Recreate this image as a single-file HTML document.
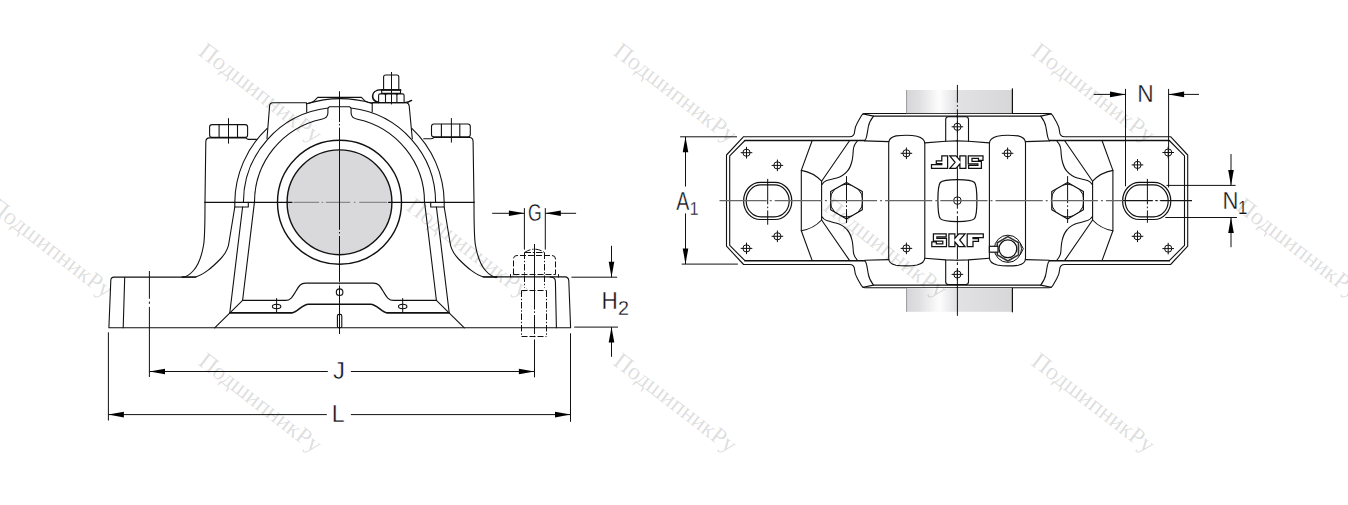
<!DOCTYPE html>
<html>
<head>
<meta charset="utf-8">
<title>Pillow block housing drawing</title>
<style>
html,body{margin:0;padding:0;background:#fff;}
body{width:1348px;height:505px;overflow:hidden;font-family:"Liberation Sans",sans-serif;}
svg{display:block;position:absolute;left:0;top:0;}
.m{fill:none;stroke:#111;stroke-width:1.1;stroke-linecap:round;stroke-linejoin:round;}
.t{fill:none;stroke:#111;stroke-width:1;stroke-linecap:butt;}
.h{fill:none;stroke:#111;stroke-width:1;stroke-dasharray:6 2;}
.hd{fill:none;stroke:#111;stroke-width:1;stroke-dasharray:6.5 1.8 1.4 1.8;}
.c{fill:none;stroke:#111;stroke-width:1;stroke-dasharray:14 2.5 1.8 2.5;}
.cg{fill:none;stroke:#777;stroke-width:1.2;stroke-dasharray:17 3 2 3;}
.a{fill:#000;stroke:none;}
.lbl{font-family:"Liberation Sans",sans-serif;fill:#101018;stroke:#fff;stroke-width:1.4;}
.wm{font-family:"Liberation Serif",serif;font-size:24px;fill:#000;fill-opacity:0.14;}
</style>
</head>
<body>
<svg width="1348" height="505" viewBox="0 0 1348 505">
<defs>
<linearGradient id="sh" x1="0" x2="1" y1="0" y2="0">
<stop offset="0" stop-color="#d6d6d8"/>
<stop offset="0.12" stop-color="#dfdfe1"/>
<stop offset="0.31" stop-color="#fdfdfd"/>
<stop offset="0.47" stop-color="#e2e2e4"/>
<stop offset="1" stop-color="#d7d7d9"/>
</linearGradient>
</defs>



<!-- FRONT VIEW -->
<g id="front">
<circle cx="339.5" cy="202.3" r="52.4" fill="#d9d9db" stroke="#111" stroke-width="1.4"/>
<circle class="m" cx="339.5" cy="202.3" r="62" style="stroke-width:1.4"/>
<!-- arcs -->
<path class="m" d="M234.8,202.4 A104.7,103.5 0 0 1 267.2,128.3"/>
<path class="m" d="M411.8,128.3 A104.7,103.5 0 0 1 444.2,202.4"/>
<path class="m" d="M306.7,103.8 Q339.5,93.7 372.2,103.3"/>
<path class="m" d="M243.4,202.3 A96.1,95 0 0 1 328,108 L329.3,106.8 H349.7 L351,108 A96.1,95 0 0 1 435.6,202.3"/>
<path class="m" d="M254.5,202.3 A85,85 0 0 1 321.5,119.2 Q327.9,118 327.9,113 L327.9,108.2"/>
<path class="m" d="M424.5,202.3 A85,85 0 0 0 357.5,119.2 Q351.1,118 351.1,113 L351.1,108.2"/>
<!-- cover -->
<path class="m" d="M267,138.5 L269.6,106 Q269.8,102.8 273,102.8 L306.5,102.8"/>
<path class="m" d="M306.7,103.7 V112.3 M372.2,103.1 V112"/>
<path class="m" d="M306.3,103.7 Q312,103 314.5,100.6 L317.7,97.4 L361.4,97.4 L364.6,100.6 Q368,103 372.2,103.1"/>
<path class="m" d="M372.2,102.8 L406,102.8 Q408.8,102.8 409.2,106 L412.3,138.8"/>
<!-- body top left / right with bolt heads -->
<path class="m" d="M205,202.3 L205.8,142 Q205.8,137.9 209.5,137.9 L246,137.9 Q247.2,139.4 248.5,139.4 L256.5,139.4"/>
<rect class="m" x="209.6" y="124.6" width="38" height="12.8" rx="2.5"/>
<path class="m" d="M219.1,124.8V137.4M237.5,124.8V137.4"/>
<path class="t" d="M228.5,118.2V143.6"/>
<path class="m" d="M474,202.3 L473.1,142 Q473.1,137.5 469.5,137.5 L434,137.5 Q432.5,138.8 431,138.8 L423.7,138.8"/>
<rect class="m" x="431.5" y="124" width="38.8" height="12.9" rx="2.5"/>
<path class="m" d="M441.4,124.2V136.9M459.8,124.2V136.9"/>
<path class="t" d="M451.4,118.1V142.6"/>
<!-- parting line -->
<path class="m" d="M205,202.4H292M388.5,202.4H474" style="stroke-width:1.1"/>
<path d="M293.5,202.4H319.1M321.6,202.4H323.2M325.8,202.4H350.2M353.9,202.4H355.5M359.2,202.4H387" stroke="#8a8a8c" stroke-width="1.3" fill="none"/>
<!-- left lower (mirrored for right) -->
<g id="lowL">
<path class="m" d="M234.8,202.4V207H248.3V202.4"/>
<path class="m" d="M234.8,207 L228.9,243 C228.3,248 226,253 220.4,259 C215,264.5 211,268 207.8,270.4 C203,274 199,276.5 195,277 L182,277.1"/>
<path class="m" d="M242.6,207 L229.8,312.7"/>
<path class="m" d="M254.4,202.4 L242.6,300.3 L214.7,327.8"/>
<path class="m" d="M205,202.3 C205,225 204.8,238 203.6,245 C201.5,257 198,265.5 193.5,270.5 C190,274.5 186.5,277 182.4,277.1"/>
</g>
<use href="#lowL" transform="translate(679,0) scale(-1,1)"/>
<!-- base -->
<path class="m" d="M196,277.1 L114,277.1 Q110.9,277.1 110.8,280.5 L108.9,327.8 L570.6,327.8 L568.8,281 Q568.6,276.9 565,276.9 L483,276.9"/>
<path class="m" d="M124.7,277.6 L123.2,327.8"/>
<path class="m" d="M550,277 Q555.4,277 555.4,281.5 L556.4,327.8"/>
<!-- inner lower profile -->
<path class="m" d="M242.6,300.4 H285.4 C291,300.4 293,296 296,291 C299,286 300.5,283.1 305.5,283.1 H373.5 C378.5,283.1 380,286 383,291 C386,296 388,300.4 393.6,300.4 H436.4"/>
<path class="m" d="M229.9,312.9 H292 C297,312.9 302,304.2 308.5,304.2 H370.5 C377,304.2 382,312.9 387,312.9 H449.1" style="stroke-width:1.6"/>
<circle class="m" cx="339.6" cy="292.2" r="3.3" style="stroke-width:1.1"/>
<ellipse class="m" cx="276.6" cy="306.5" rx="4.2" ry="2.2" style="stroke-width:1.1"/>
<ellipse class="m" cx="402.7" cy="306.5" rx="4.2" ry="2.2" style="stroke-width:1.1"/>
<path class="t" d="M276.6,298.1V313.1M402.7,298.1V313.1"/>
<rect class="m" x="337.4" y="314.4" width="4.4" height="13.4" rx="1.6" style="stroke-width:1.1"/>
<!-- centre line -->
<path class="t" d="M339.5,91.2V122.1M339.5,123.9V125.4M339.5,127.6V229.8M339.5,232V233.5M339.5,236V281.8M339.5,283.2V284.2M339.5,285.5V334"/>
<!-- top lifting bolt -->
<path class="m" d="M383.6,89.8 V77 Q383.6,75 385.6,75 H396.8 Q398.8,75 398.8,77 V89.8"/>
<rect class="m" x="381.7" y="90" width="18.8" height="3.4"/><path class="m" d="M381.7,89.9H400.5" style="stroke-width:1.8"/>
<path class="m" d="M378.6,102 V95.5 Q378.6,93.9 380.20000000000005,93.9 H383.9 Q385.5,93.9 385.5,95.5 V102 M385.5,102 V95.5 Q385.5,93.9 387.1,93.9 H395.29999999999995 Q396.9,93.9 396.9,95.5 V102 M396.9,102 V95.5 Q396.9,93.9 398.5,93.9 H402.5 Q404.1,93.9 404.1,95.5 V102"/>
<path class="m" d="M381.7,89.8 C375,89.8 372.6,93 372.6,96 C372.6,99 374.5,101.5 378.5,102.4" style="stroke-width:1.6"/>
<path class="m" d="M372.8,102.6 H404.5 Q408.5,102.6 411.6,100.4" style="stroke-width:1.4"/>
<path class="t" d="M391.5,72V104.4"/>
<!-- base bolt left centreline -->
<path class="t" d="M149.4,271V298.8M149.4,301.6V303.8M149.4,306.9V377"/>

<!-- base bolt right, hidden lines -->
<path class="hd" d="M524.5,252.5 Q534.5,245.8 544.5,252.5"/>
<path class="hd" d="M524.5,252.5H544.5"/>
<path class="h" d="M513.5,274.5 V259 Q513.5,255.5 517,255.5 H552 Q555.5,255.5 555.5,259 V274.5"/>
<path class="h" d="M513.5,274.5H555.5"/>
<path class="m" d="M510.5,277V274.5M558.5,277V274.5" style="stroke-width:1"/>
<path class="hd" d="M524.5,252.5V287.6M544.5,252.5V287.6"/>
<path class="h" d="M521.5,290.5H546.5"/>
<path class="hd" d="M521.5,290.5V336.5M546.5,290.5V336.5"/>
<path class="h" d="M521.5,336.5H546.5"/>
<path class="t" d="M534.5,244V309.5M534.5,311.3V312.9M534.5,315V334M534.5,335.8V337.2M534.5,339.5V377.3"/>
</g>

<!-- TOP VIEW -->
<g id="top">
<g id="q">
<!-- outer outline quarter -->
<path class="m" d="M726.5,200.6 V155 L743.6,136.7 H849.5 C852.5,136.7 854.5,135 854.6,131.5 C854.7,128 855.5,126 857.5,122.5 L861.5,115.5 Q862.6,113.5 865,113.5 H957.4"/>
<path class="m" d="M729.7,200.6 V155.8 L744.9,140.5"/><path class="m" d="M744.9,140.5 H864.7" style="stroke-width:1.5"/>
<path class="m" d="M863,113.9 L873.5,116.1 H957.4"/>
<path class="m" d="M873.5,116.1 C870.5,120 869,123 868.4,126.5 C867.6,131 867.2,134 866.6,136.5 Q866,139.5 864.7,140.6"/>
<path class="m" d="M864.7,140.9 L888.7,141.6"/>
<!-- web lines -->
<path class="m" d="M812.1,140.8 L801.3,170.4 V200.6"/>
<path class="m" d="M801.3,170.4 Q813.5,172.5 821.6,181.2 V200.6"/>
<path class="m" d="M849.5,140.8 L821.6,181.2"/>
<path class="m" d="M857.1,141.4 C854.5,144 853.6,146 853.3,150 C853,155 852.8,158 852,161 C850.8,166 849.5,169 846.9,171.7 C844,175 840.5,177 836.8,178 C832.5,179.2 829.5,179.6 826.6,180.6 Q823.5,181.8 822,184.4" style="stroke-width:1.1"/>
<!-- band -->
<path class="m" d="M888.7,200.6 V143 C888.7,139.5 892,136.8 896,135.9 Q901,135.3 906.5,135.3 Q912.5,135.3 917,136.2 C921.5,137.4 924.8,140 924.8,143.5 V200.6"/>
<path class="m" d="M924.8,142.9 L945.7,141.3 L957.4,140.9"/>
<path class="m" d="M945.7,141.2 V119.5 Q945.7,116.7 948.5,116.7 H957.4"/>
</g>

<use href="#q" transform="translate(1914.2,0) scale(-1,1)"/>
<use href="#q" transform="translate(0,401.2) scale(1,-1)"/>
<use href="#q" transform="translate(1914.2,401.2) scale(-1,-1)"/>

<rect x="906.3" y="90" width="106.2" height="23.2" fill="url(#sh)"/>
<path d="M906.6,90V113.3" stroke="#9a9a9c" stroke-width="1" fill="none"/>
<path class="m" d="M1012.4,88.8V113.3" style="stroke-width:1.2"/>
<rect x="906.3" y="288" width="106.2" height="23.8" fill="url(#sh)"/>
<path d="M906.6,288V311.8" stroke="#9a9a9c" stroke-width="1" fill="none"/>
<path class="m" d="M1012.4,288V311.8" style="stroke-width:1.2"/>
<rect class="m" x="743.6" y="182.3" width="48.2" height="37.2" rx="16.8" ry="18.6" style="stroke-width:1.2"/><rect class="m" x="746.2" y="184.9" width="43" height="32" rx="14.6" ry="16" style="stroke-width:1.2"/><path class="c" d="M767.7,178.9V224.7" style="stroke-dasharray:25.5 2.2 1.6 2.2"/><rect class="m" x="1122.6" y="182.3" width="48.2" height="37.2" rx="16.8" ry="18.6" style="stroke-width:1.2"/><rect class="m" x="1125.2" y="184.9" width="43" height="32" rx="14.6" ry="16" style="stroke-width:1.2"/><path class="c" d="M1147.4,178.9V222.8" style="stroke-dasharray:25.5 2.2 1.6 2.2"/><clipPath id="hc846"><polygon points="846.5,182.4 830.7,191.5 830.7,209.8 846.5,219.0 862.3,209.8 862.3,191.5"/></clipPath><polygon class="m" points="846.5,182.4 830.7,191.5 830.7,209.8 846.5,219.0 862.3,209.8 862.3,191.5" style="stroke-width:1.2"/><circle class="t" cx="846.5" cy="200.6" r="16.4" clip-path="url(#hc846)"/><path class="c" d="M846.5,176.1V223" style="stroke-dasharray:27 2.2 1.6 2.2"/><clipPath id="hc1067"><polygon points="1067.6,182.4 1051.8,191.5 1051.8,209.8 1067.6,219.0 1083.4,209.8 1083.4,191.5"/></clipPath><polygon class="m" points="1067.6,182.4 1051.8,191.5 1051.8,209.8 1067.6,219.0 1083.4,209.8 1083.4,191.5" style="stroke-width:1.2"/><circle class="t" cx="1067.6" cy="200.6" r="16.4" clip-path="url(#hc1067)"/><path class="c" d="M1067.6,176.1V223" style="stroke-dasharray:27 2.2 1.6 2.2"/><circle cx="746.5" cy="152.7" r="3.6" class="t"/><path class="t" d="M740.7,152.7H752.3M746.5,146.89999999999998V158.5"/><circle cx="777.4" cy="165.4" r="3.6" class="t"/><path class="t" d="M771.6,165.4H783.1999999999999M777.4,159.6V171.20000000000002"/><circle cx="746.5" cy="248.4" r="3.6" class="t"/><path class="t" d="M740.7,248.4H752.3M746.5,242.6V254.20000000000002"/><circle cx="777.4" cy="236.3" r="3.6" class="t"/><path class="t" d="M771.6,236.3H783.1999999999999M777.4,230.5V242.10000000000002"/><circle cx="1168.2" cy="152.5" r="3.6" class="t"/><path class="t" d="M1162.4,152.5H1174.0M1168.2,146.7V158.3"/><circle cx="1137.5" cy="164.9" r="3.6" class="t"/><path class="t" d="M1131.7,164.9H1143.3M1137.5,159.1V170.70000000000002"/><circle cx="1168.2" cy="248.6" r="3.6" class="t"/><path class="t" d="M1162.4,248.6H1174.0M1168.2,242.79999999999998V254.4"/><circle cx="1137.5" cy="236.3" r="3.6" class="t"/><path class="t" d="M1131.7,236.3H1143.3M1137.5,230.5V242.10000000000002"/><circle cx="957.4" cy="126.8" r="3.6" class="t"/><path class="t" d="M951.6,126.8H963.1999999999999M957.4,121.0V132.6"/><circle cx="957.4" cy="274.4" r="3.6" class="t"/><path class="t" d="M951.6,274.4H963.1999999999999M957.4,268.59999999999997V280.2"/><circle cx="906.4" cy="153.3" r="3.6" class="t"/><path class="t" d="M900.6,153.3H912.1999999999999M906.4,147.5V159.10000000000002"/><circle cx="1007.6" cy="153.3" r="3.6" class="t"/><path class="t" d="M1001.8000000000001,153.3H1013.4M1007.6,147.5V159.10000000000002"/><circle cx="906.4" cy="248.4" r="3.6" class="t"/><path class="t" d="M900.6,248.4H912.1999999999999M906.4,242.6V254.20000000000002"/>
<path class="m" d="M957.4,179.6 C967,179.6 972.5,180.3 974.5,182.5 C976.4,184.8 976.9,192 976.9,200.6 C976.9,209.2 976.4,216.4 974.5,218.7 C972.5,220.9 967,221.6 957.4,221.6 C947.8,221.6 942.3,220.9 940.3,218.7 C938.4,216.4 937.9,209.2 937.9,200.6 C937.9,192 938.4,184.8 940.3,182.5 C942.3,180.3 947.8,179.6 957.4,179.6Z" style="stroke-width:1.2"/>
<circle class="t" cx="957.4" cy="200.6" r="3.8"/>

<path d="M719.5,200.6H1192" fill="none" stroke="#666" stroke-width="1.1" stroke-dasharray="47.2 3 2 3"/>
<path class="t" d="M1123,200.6H1152.5M1155.2,200.6h1.8M1159.8,200.6H1192"/><path class="t" d="M957.4,84.9V102.7M957.4,105.1V106.7M957.4,109.2V208.7M957.4,211.3V213.6M957.4,216V259.4M957.4,262.2V265M957.4,268V315.8"/>

<g id="skf" fill="#fff" stroke="#111" stroke-width="1.25" stroke-linejoin="miter">
<path d="M933.4,233.9 H946.2 V236.9 H936.9 V238.4 H946.5 V246.5 H931.8 V241.8 H936.3 V243.8 H942.8 V241 H933.4 Z"/>
<path d="M948.9,233.9 H954.9 V238.4 L958.8,233.9 H965 L959.7,240 L965,246.5 H958.8 L954.9,242 V246.5 H948.9 Z"/>
<path d="M967.2,233.9 H983.3 V237.6 H973 V238.6 H978.5 V241.3 H973 V246.5 H967.2 Z"/>
</g>
<use href="#skf" transform="translate(1914.8,402.3) scale(-1,-1)"/>

<circle cx="1007.9" cy="248.8" r="13.6" class="t" style="fill:#fff"/>
<path class="t" d="M1020.1,242.8 L1023.3,248.8 L1020.1,254.8"/>
<polygon class="t" points="1007.9,236.6 997.3,242.7 997.3,254.9 1007.9,261.0 1018.5,254.9 1018.5,242.7" style="stroke-width:1.6;stroke:#333"/>
<circle cx="1007.9" cy="248.8" r="8.9" class="t" style="stroke-width:1.3" fill="#fff"/>
<rect x="989.4" y="246.3" width="8.6" height="5.9" class="t" style="stroke-width:1.2;fill:#fff"/>
</g>

<!-- DIMENSIONS -->
<g id="dims"><path class="t" d="M524.4,208.1V249.6M545.3,208.1V249.6M492.2,213.3H524.4M545.3,213.3H576.1"/><polygon class="a" points="524.4,213.3 508.9,210.5 508.9,216.1"/><polygon class="a" points="545.3,213.3 560.8,210.5 560.8,216.1"/><text class="lbl" font-size="100" transform="matrix(0.1762,0,0,0.2345,527.91,220.77)">G</text><path class="t" d="M571.4,277.2H617.2M574.2,327.1H618M611.5,245.8V277.2M611.5,327.1V356.8"/><polygon class="a" points="611.5,277.2 608.7,261.7 614.3,261.7"/><polygon class="a" points="611.5,327.1 608.7,342.6 614.3,342.6"/><text class="lbl" font-size="100" transform="matrix(0.2256,0,0,0.2456,601.45,309.40)">H</text><text class="lbl" font-size="100" transform="matrix(0.1976,0,0,0.1962,618.01,314.70)">2</text><path class="t" d="M149.5,371.5H327.8M350.9,371.5H534.4"/><polygon class="a" points="149.5,371.5 165.0,368.7 165.0,374.3"/><polygon class="a" points="534.4,371.5 518.9,368.7 518.9,374.3"/><text class="lbl" font-size="100" transform="matrix(0.2389,0,0,0.2479,333.03,379.46)">J</text><path class="t" d="M108.4,332.3V420.5M570.5,333.3V421.8M108.4,414.6H326.8M350.9,414.6H570.5"/><polygon class="a" points="108.4,414.6 123.9,411.8 123.9,417.4"/><polygon class="a" points="570.5,414.6 555.0,411.8 555.0,417.4"/><text class="lbl" font-size="100" transform="matrix(0.2313,0,0,0.2471,331.70,421.50)">L</text><path class="t" d="M680.1,136.8H737M681.7,264.1H737.9M685.5,136.8V186.5M685.5,213.4V264.1"/><polygon class="a" points="685.5,136.8 682.7,152.3 688.3,152.3"/><polygon class="a" points="685.5,264.1 682.7,248.6 688.3,248.6"/><text class="lbl" font-size="100" transform="matrix(0.1961,0,0,0.2544,676.26,210.00)">A</text><text class="lbl" font-size="100" transform="matrix(0.1577,0,0,0.1860,689.80,214.80)">1</text><path class="t" d="M1125.5,88.9V186.3M1168.6,88.9V187.5M1093.8,94.4H1125.5M1168.6,94.4H1199"/><polygon class="a" points="1125.5,94.4 1110.0,91.6 1110.0,97.2"/><polygon class="a" points="1168.6,94.4 1184.1,91.6 1184.1,97.2"/><text class="lbl" font-size="100" transform="matrix(0.2274,0,0,0.2471,1137.23,102.40)">N</text><path class="t" d="M1166.5,185.4H1235.6M1165.3,217.5H1236.9M1231,154V185.4M1231,217.5V247.2"/><polygon class="a" points="1231.0,185.4 1228.2,169.9 1233.8,169.9"/><polygon class="a" points="1231.0,217.5 1228.2,233.0 1233.8,233.0"/><text class="lbl" font-size="100" transform="matrix(0.2202,0,0,0.2456,1222.49,209.40)">N</text><text class="lbl" font-size="100" transform="matrix(0.1693,0,0,0.1773,1238.01,214.20)">1</text></g>
<!-- WATERMARKS (overlay) -->
<g id="wm"><text class="wm" transform="translate(197,54) rotate(37.5)">ПодшипникРу</text><text class="wm" transform="translate(612,54) rotate(37.5)">ПодшипникРу</text><text class="wm" transform="translate(1030,54) rotate(37.5)">ПодшипникРу</text><text class="wm" transform="translate(-12,209) rotate(37.5)">ПодшипникРу</text><text class="wm" transform="translate(405,209) rotate(37.5)">ПодшипникРу</text><text class="wm" transform="translate(822,209) rotate(37.5)">ПодшипникРу</text><text class="wm" transform="translate(1235,209) rotate(37.5)">ПодшипникРу</text><text class="wm" transform="translate(197,364) rotate(37.5)">ПодшипникРу</text><text class="wm" transform="translate(612,364) rotate(37.5)">ПодшипникРу</text><text class="wm" transform="translate(1030,364) rotate(37.5)">ПодшипникРу</text></g>
</svg>
</body>
</html>
